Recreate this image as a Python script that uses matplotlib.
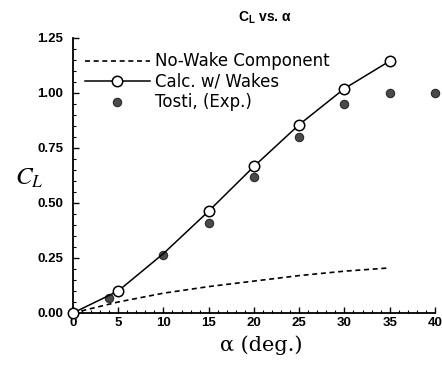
import numpy as np
import matplotlib.pyplot as plt
from matplotlib.ticker import MultipleLocator

# data
alpha_nowake = [0, 5, 10, 15, 20, 25, 30, 35]
cl_nowake = [0.0, 0.05, 0.09, 0.12, 0.145, 0.17, 0.19, 0.205]

alpha_calc = [0, 5, 10, 15, 20, 25, 30, 35]
cl_calc = [0.0, 0.10, 0.27, 0.463, 0.666, 0.856, 1.02, 1.145]

alpha_exp = [0, 4, 10, 15, 20, 25, 30, 35, 40]
cl_exp = [0.0, 0.067, 0.265, 0.41, 0.62, 0.80, 0.948, 1.0, 1.0]

xticks = [0, 5, 10, 15, 20, 25, 30, 35, 40]
yticks = [0.0, 0.25, 0.50, 0.75, 1.00, 1.25]

fig = plt.figure(figsize=(4.42, 3.65), dpi=100)
ax = fig.add_axes([0.165, 0.1425, 0.819, 0.7535])

ax.plot(alpha_nowake, cl_nowake, color="black", lw=1.2, ls=(0, (3, 2.2)),
        label="No-Wake Component")
ax.plot(alpha_exp, cl_exp, ls="none", marker="o", ms=6, mfc="#4a4a4a",
        mec="#2a2a2a", mew=0.8, label="Tosti, (Exp.)", zorder=3)
# open circle at 10 deg is hidden under the exp. point in the original
ax.plot(alpha_calc, cl_calc, color="black", lw=1.1, marker="o", ms=7.5,
        mfc="white", mec="black", mew=1.1, label="Calc. w/ Wakes", zorder=4,
        markevery=[0, 1, 3, 4, 5, 6, 7])

ax.set_xlim(0, 40)
ax.set_ylim(0, 1.25)
ax.set_xticks(xticks)
ax.set_yticks(yticks)
ax.set_yticklabels(["%.2f" % v for v in yticks])
ax.xaxis.set_minor_locator(MultipleLocator(1))
ax.yaxis.set_minor_locator(MultipleLocator(0.05))
ax.tick_params(which="both", direction="in", top=False, right=False,
               labelsize=9.5)
ax.tick_params(which="major", length=4, width=1)
ax.tick_params(which="minor", length=2, width=0.8)
ax.tick_params(axis="y", pad=7)
ax.tick_params(axis="x", pad=3)
for lab in ax.get_xticklabels() + ax.get_yticklabels():
    lab.set_fontweight("bold")
    lab.set_family("Liberation Sans")
ax.spines["top"].set_visible(False)
ax.spines["right"].set_visible(False)
ax.spines["left"].set_linewidth(1.3)
ax.spines["bottom"].set_linewidth(1.3)
for ln in ax.lines:
    ln.set_clip_on(False)

h, l = ax.get_legend_handles_labels()
order = [0, 2, 1]
leg = ax.legend([h[i] for i in order], [l[i] for i in order], loc="upper left",
                bbox_to_anchor=(0.0, 0.99), frameon=False, handlelength=3.9,
                handletextpad=0.35, labelspacing=0.15, borderaxespad=0.3,
                prop={"family": "DejaVu Sans", "size": 12})
leg.legend_handles[1].set_markevery([1])

fig.text(0.60, 0.95, r"$\mathregular{C_L}$ vs. α", ha="center",
         va="center", fontsize=10, family="Liberation Sans", fontweight="bold")
fig.text(0.065, 0.51, r"$C_L$", ha="center", va="center", fontsize=18,
         family="serif", math_fontfamily="stix")
fig.text(0.59, 0.055, "α (deg.)", ha="center", va="center",
         fontsize=15, family="DejaVu Serif")

fig.savefig("out.png", dpi=100)
